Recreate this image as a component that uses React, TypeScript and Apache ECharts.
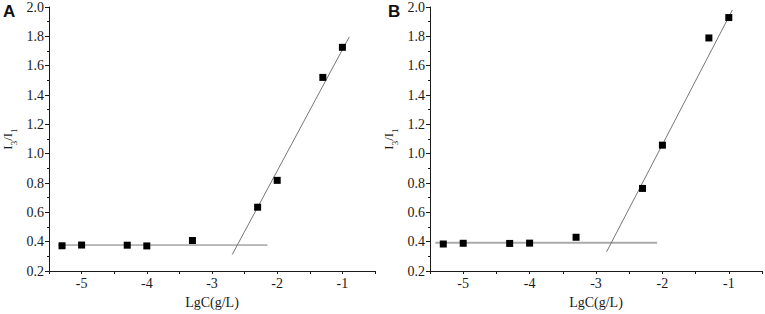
import React, { useEffect, useRef } from "react";
import * as echarts from "echarts";

const xValues = [-5.3, -5, -4.3, -4, -3.3, -2.3, -2, -1.3, -1];
const yValuesA = [0.372, 0.377, 0.376, 0.371, 0.408, 0.635, 0.818, 1.52, 1.725];
const yValuesB = [0.384, 0.389, 0.388, 0.39, 0.43, 0.763, 1.058, 1.789, 1.928];

const flatLineA = [[-5.36, 0.377], [-2.15, 0.377]];
const steepLineA = [[-2.69, 0.312], [-0.895, 1.796]];
const flatLineB = [[-5.42, 0.392], [-2.08, 0.392]];
const steepLineB = [[-2.84, 0.331], [-0.945, 1.98]];

const xTickMin = -5.5;
const xTickMax = -0.5;
const yTickMin = 0.2;
const yTickMax = 2.0;

const SERIF = "Liberation Serif";

function makeX(gridIndex: number) {
  return {
    type: "value",
    gridIndex,
    min: xTickMin,
    max: xTickMax,
    interval: 0.5,
    name: "LgC(g/L)",
    nameLocation: "middle",
    nameGap: 24,
    nameTextStyle: { fontFamily: SERIF, fontSize: 14, color: "#1a1a1a" },
    axisLine: { show: true, lineStyle: { color: "#1a1a1a", width: 1 } },
    axisTick: { show: true, length: 3, lineStyle: { color: "#1a1a1a" } },
    axisLabel: {
      fontFamily: SERIF,
      fontSize: 14,
      color: "#1a1a1a",
      margin: 5,
      formatter: (v: number) => (Math.abs(v - Math.round(v)) < 1e-6 ? String(Math.round(v)) : ""),
    },
    splitLine: { show: false },
  };
}

function makeY(gridIndex: number) {
  return {
    type: "value",
    gridIndex,
    min: yTickMin,
    max: yTickMax,
    interval: 0.2,
    name: "{n|I}{s|3}{n|/I}{s|1}",
    nameLocation: "middle",
    nameGap: 31,
    nameTextStyle: {
      fontFamily: SERIF,
      color: "#1a1a1a",
      rich: {
        n: { fontFamily: SERIF, fontSize: 13, lineHeight: 17, verticalAlign: "top", color: "#1a1a1a" },
        s: { fontFamily: SERIF, fontSize: 9, lineHeight: 9, verticalAlign: "bottom", color: "#1a1a1a" },
      },
    },
    axisLine: { show: true, lineStyle: { color: "#1a1a1a", width: 1 } },
    axisTick: { show: true, length: 4, lineStyle: { color: "#1a1a1a" } },
    minorTick: { show: true, splitNumber: 2, length: 2, lineStyle: { color: "#1a1a1a" } },
    axisLabel: {
      fontFamily: SERIF,
      fontSize: 14,
      color: "#1a1a1a",
      margin: 5,
      formatter: (v: number) => v.toFixed(1),
    },
    splitLine: { show: false },
  };
}

export default function App() {
  const ref = useRef<HTMLDivElement>(null);
  useEffect(() => {
    if (!ref.current) return;
    const chart = echarts.init(ref.current, undefined, { renderer: "svg" });
    const ptsA = xValues.map((x, i) => [x, yValuesA[i]]);
    const ptsB = xValues.map((x, i) => [x, yValuesB[i]]);
    chart.setOption({
      animation: false,
      backgroundColor: "#fff",
      textStyle: { fontFamily: SERIF },
      grid: [
        { left: 41, top: 7, width: 334, height: 272 },
        { left: 430, top: 6, width: 333, height: 271 },
      ],
      xAxis: [makeX(0), makeX(1)],
      yAxis: [makeY(0), makeY(1)],
      graphic: [
        { type: "text", left: 3, top: 3, style: { text: "A", font: "bold 17px Liberation Sans", fill: "#111" } },
        { type: "text", left: 388, top: 3, style: { text: "B", font: "bold 17px Liberation Sans", fill: "#111" } },
      ],
      series: [
        { type: "line", xAxisIndex: 0, yAxisIndex: 0, data: flatLineA, symbol: "none", lineStyle: { color: "#777", width: 1 }, z: 1 },
        { type: "line", xAxisIndex: 0, yAxisIndex: 0, data: steepLineA, symbol: "none", lineStyle: { color: "#777", width: 1 }, z: 1 },
        { type: "scatter", xAxisIndex: 0, yAxisIndex: 0, data: ptsA, symbol: "rect", symbolSize: 7, itemStyle: { color: "#000", opacity: 1 }, z: 3 },
        { type: "line", xAxisIndex: 1, yAxisIndex: 1, data: flatLineB, symbol: "none", lineStyle: { color: "#aaa", width: 2 }, z: 1 },
        { type: "line", xAxisIndex: 1, yAxisIndex: 1, data: steepLineB, symbol: "none", lineStyle: { color: "#777", width: 1 }, z: 1 },
        { type: "scatter", xAxisIndex: 1, yAxisIndex: 1, data: ptsB, symbol: "rect", symbolSize: 7, itemStyle: { color: "#000", opacity: 1 }, z: 3 },
      ],
    });
    return () => chart.dispose();
  }, []);
  return <div ref={ref} style={{ position: "absolute", left: 0, top: 0, width: 765, height: 314 }} />;
}
